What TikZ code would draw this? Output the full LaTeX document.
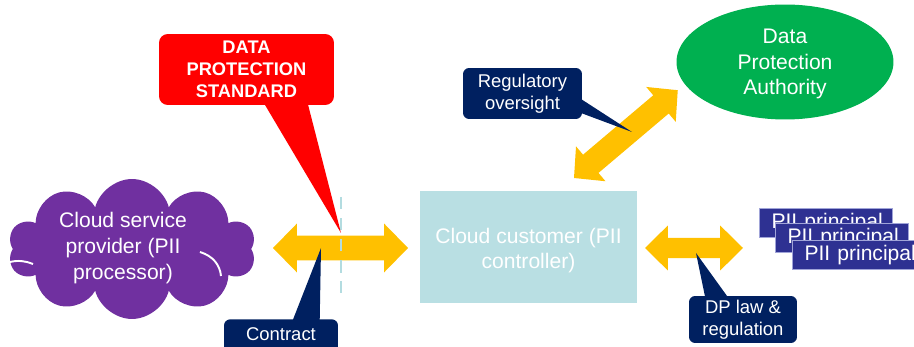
\documentclass[tikz,border=0pt]{standalone}
\usepackage{fontspec}
\setmainfont{Liberation Sans}
\usetikzlibrary{shapes.symbols,shapes.geometric,calc}

\definecolor{arrowyellow}{HTML}{FFC000}
\definecolor{navy}{HTML}{002060}
\definecolor{alertred}{HTML}{FF0000}
\definecolor{dpagreen}{HTML}{00B050}
\definecolor{cloudpurple}{HTML}{7030A0}
\definecolor{custteal}{HTML}{B9DFE3}
\definecolor{dashteal}{HTML}{B3DCE0}
\definecolor{piiblue}{HTML}{2E3192}
\definecolor{piiedge}{HTML}{A0A4D8}

% double-headed block arrow: from, to, shaft half-width, head half-width, head length (pt)
\newcommand\dblarrow[5]{%
  \fill[arrowyellow] let \p1=(#1), \p2=(#2),
    \n1={atan2(\y2-\y1,\x2-\x1)},
    \n2={veclen(\x2-\x1,\y2-\y1)},
    \n3={\n2-#5pt} in
    [shift={(\p1)}, rotate=\n1]
    (0pt,0pt) -- (#5pt,#4pt) -- (#5pt,#3pt) -- (\n3,#3pt) -- (\n3,#4pt)
    -- (\n2,0pt) -- (\n3,-#4pt) -- (\n3,-#3pt) -- (#5pt,-#3pt)
    -- (#5pt,-#4pt) -- cycle;}

\begin{document}
\begin{tikzpicture}[x=0.02cm, y=-0.02cm,
  bigtext/.style={text=white, align=center, font=\fontsize{12}{14.7}\selectfont},
  callout/.style={fill=navy, rounded corners=3.5pt, text=white, align=center,
    inner sep=0pt, font=\fontsize{10.5}{12.5}\selectfont},
  piibox/.style={anchor=north west, fill=piiblue, draw=piiedge, line width=0.6pt,
    minimum width=2.66cm, minimum height=0.58cm, text width=2.18cm,
    inner xsep=0.24cm, inner ysep=0pt, align=left, text=white,
    font=\fontsize{12}{14}\selectfont},
  stdline/.style={dashteal, line width=1.7pt, dash pattern=on 7pt off 5pt}]

\useasboundingbox (0,0) rectangle (914,347);

% cloud service provider
\node[cloud, cloud puffs=10, aspect=1.75, fill=cloudpurple, inner sep=0pt,
      minimum width=4.95cm, minimum height=2.8cm] (csp) at (132,249) {};
\draw[white, line width=1.1pt] (200,252) .. controls (213,256) and (220,265) .. (221,276);
\draw[white, line width=1.1pt] (10,262) .. controls (18,260) and (26,261) .. (33,264);
\node[bigtext] (csptext) at (123,248) {Cloud service\\provider (PII\\processor)};

% cloud customer
\node[fill=custteal, minimum width=4.34cm, minimum height=2.24cm, bigtext]
  (cc) at (528.5,247) {};
\node[bigtext] (cctext) at (528.5,250.5) {Cloud customer (PII\\controller)};

% data protection authority
\node[ellipse, fill=dpagreen, minimum width=4.34cm, minimum height=2.3cm,
      inner sep=0pt] (dpa) at (785,62) {};
\node[bigtext] (dpatext) at (785,64) {Data\\Protection\\Authority};

% arrows
\coordinate (la1) at (273,248);
\coordinate (la2) at (408,248);
\coordinate (ra1) at (645,248);
\coordinate (ra2) at (743,248);
\coordinate (ov1) at (574,178);
\coordinate (ov2) at (678,90);
\dblarrow{la1}{la2}{7.1}{13.9}{13.6}
\dblarrow{ra1}{ra2}{5.7}{12.8}{13.0}
\dblarrow{ov1}{ov2}{6.8}{13.0}{12.5}

% standard boundary
\coordinate (bndTop) at (341,197);
\coordinate (bndBot) at (341,293);
\draw[stdline] (bndTop) -- (bndBot);

% PII principals
\foreach \i/\px/\py in {1/759/208, 2/775/223, 3/792/240}
  \node[piibox] (pii\i) at (\px,\py) {\mbox{PII principal}};

% callouts
\node[callout, fill=alertred, rounded corners=5pt, minimum width=3.5cm,
      minimum height=1.42cm, font=\bfseries\fontsize{10.4}{12.5}\selectfont]
  (dps) at (246.5,69.5) {DATA\\PROTECTION\\STANDARD};
\coordinate (dpsTip) at (341,233);
\fill[alertred] ($(dps.south west)+(103,-6)$) -- (dpsTip)
  -- ($(dps.south west)+(148,-6)$) -- cycle;

\node[callout, minimum width=2.38cm, minimum height=1.02cm]
  (reg) at (522.5,93.5) {Regulatory\\oversight};
\coordinate (regTip) at (632,132);
\fill[navy] ($(reg.north east)+(-5,29)$) -- (regTip)
  -- ($(reg.north east)+(-5,44)$) -- cycle;

\node[callout, anchor=north, minimum width=2.28cm, text height=7.6pt,
      text depth=14pt, inner ysep=4.5pt] (contract) at (281,319) {Contract};
\coordinate (contractTip) at (321,248);
\fill[navy] ($(contract.north west)+(68,4)$) -- (contractTip)
  -- ($(contract.north west)+(96,4)$) -- cycle;

\node[callout, minimum width=2.16cm, minimum height=0.94cm]
  (dplaw) at (743,319.5) {DP law \&\\regulation};
\coordinate (dplawTip) at (696,253);
\fill[navy] ($(dplaw.north west)+(17,4)$) -- (dplawTip)
  -- ($(dplaw.north west)+(41,4)$) -- cycle;
\end{tikzpicture}
\end{document}
